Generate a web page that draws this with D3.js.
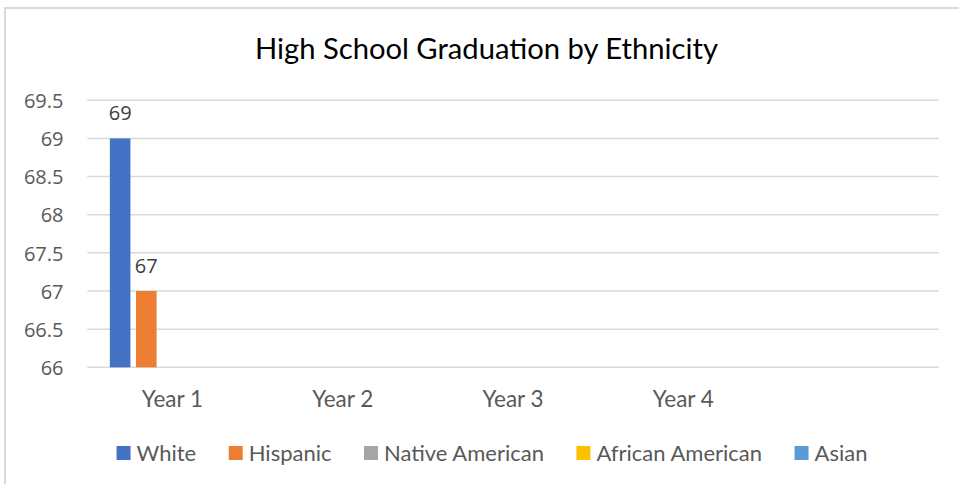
<!DOCTYPE html>
<html>
<head>
<meta charset="utf-8">
<script src="https://cdn.jsdelivr.net/npm/d3@7"></script>
<style>
  html, body { margin: 0; padding: 0; background: #fff; }
  svg { display: block; }
</style>
</head>
<body>
<svg id="chart" width="959" height="484"></svg>
<script>
// ---- data ----
const title = "High School Graduation by Ethnicity";
const categories = ["Year 1", "Year 2", "Year 3", "Year 4", ""];
const seriesNames = ["White", "Hispanic", "Native American", "African American", "Asian"];
const seriesColors = ["#4472C4", "#ED7D31", "#A5A5A5", "#FFC000", "#5B9BD5"];
const white = [69, null, null, null, null];
const hispanic = [67, null, null, null, null];
const nativeAmerican = [null, null, null, null, null];
const africanAmerican = [null, null, null, null, null];
const asian = [null, null, null, null, null];
const yTicks = [66, 66.5, 67, 67.5, 68, 68.5, 69, 69.5];

const seriesValues = [white, hispanic, nativeAmerican, africanAmerican, asian];

// ---- layout ----
const svg = d3.select("#chart");
const plot = { left: 87.3, right: 938.7, top: 100.3, bottom: 367.3 };
const calibri = "Lato, 'Open Sans', sans-serif";
const tickFont = "'Open Sans', sans-serif";

// frame (clipped by the image edge on the right and bottom)
svg.append("rect")
  .attr("x", 5).attr("y", 8)
  .attr("width", 1200).attr("height", 1200)
  .attr("fill", "none").attr("stroke", "#D9D9D9").attr("stroke-width", 2);

// title
svg.append("text")
  .attr("x", 486.5).attr("y", 59)
  .attr("text-anchor", "middle")
  .attr("font-family", calibri)
  .attr("font-size", 29.2)
  .attr("fill", "#000")
  .text(title);

const x = d3.scaleBand().domain(categories.map((c, i) => i)).range([plot.left, plot.right]).padding(0);
const gapRatio = 0.27 / 1.27;
const xs = d3.scaleBand().domain(seriesNames)
  .range([0, x.bandwidth()])
  .paddingInner(gapRatio)
  .paddingOuter(1.095 * (1 - gapRatio));
const y = d3.scaleLinear().domain([66, 69.5]).range([plot.bottom, plot.top]);

// gridlines
svg.append("g").selectAll("line").data(yTicks).join("line")
  .attr("x1", plot.left).attr("x2", plot.right)
  .attr("y1", d => y(d)).attr("y2", d => y(d))
  .attr("stroke", "#D9D9D9").attr("stroke-width", 1.5);

// y axis labels
const yAxis = d3.axisLeft(y).tickValues(yTicks).tickSize(0).tickPadding(0).tickFormat(d3.format("~g"));
const yg = svg.append("g").attr("transform", `translate(63.5,0)`).call(yAxis);
yg.select(".domain").remove();
yg.selectAll("text")
  .attr("font-family", tickFont).attr("font-size", 20)
  .attr("fill", "#595959").attr("dy", "0.36em");

// x axis labels
const xAxis = d3.axisBottom(x).tickSize(0).tickPadding(0).tickFormat(i => categories[i]);
const xg = svg.append("g").attr("transform", `translate(0,${plot.bottom})`).call(xAxis);
xg.select(".domain").remove();
xg.selectAll("text")
  .attr("font-family", calibri).attr("font-size", 22.5)
  .attr("fill", "#595959").attr("dy", 0).attr("y", 40);

// bars
const barData = [];
seriesValues.forEach((vals, si) => {
  vals.forEach((v, ci) => {
    if (v != null) barData.push({ s: seriesNames[si], color: seriesColors[si], ci, v });
  });
});
svg.append("g").selectAll("rect").data(barData).join("rect")
  .attr("x", d => x(d.ci) + xs(d.s))
  .attr("width", xs.bandwidth())
  .attr("y", d => y(d.v))
  .attr("height", d => y(66) - y(d.v))
  .attr("fill", d => d.color);

// data labels
svg.append("g").selectAll("text").data(barData).join("text")
  .attr("x", d => x(d.ci) + xs(d.s) + xs.bandwidth() / 2)
  .attr("y", d => y(d.v) - 18.5)
  .attr("text-anchor", "middle")
  .attr("font-family", tickFont).attr("font-size", 20)
  .attr("fill", "#404040")
  .text(d => d3.format("~g")(d.v));

// legend
const lg = svg.append("g");
const sq = 14, gapText = 6, gapItem = 32.5;
let cx = 0;
seriesNames.forEach((name, i) => {
  const g = lg.append("g");
  g.append("rect").attr("x", 0).attr("y", -sq / 2).attr("width", sq).attr("height", sq).attr("fill", seriesColors[i]);
  const t = g.append("text").attr("x", sq + gapText).attr("y", 0).attr("dy", "0.35em")
    .attr("font-family", calibri).attr("font-size", 22).attr("fill", "#595959").text(name);
  const w = sq + gapText + t.node().getComputedTextLength();
  g.attr("transform", `translate(${cx},0)`);
  cx += w + gapItem;
});
const totalW = cx - gapItem;
lg.attr("transform", `translate(${492 - totalW / 2},453)`);
</script>
</body>
</html>
